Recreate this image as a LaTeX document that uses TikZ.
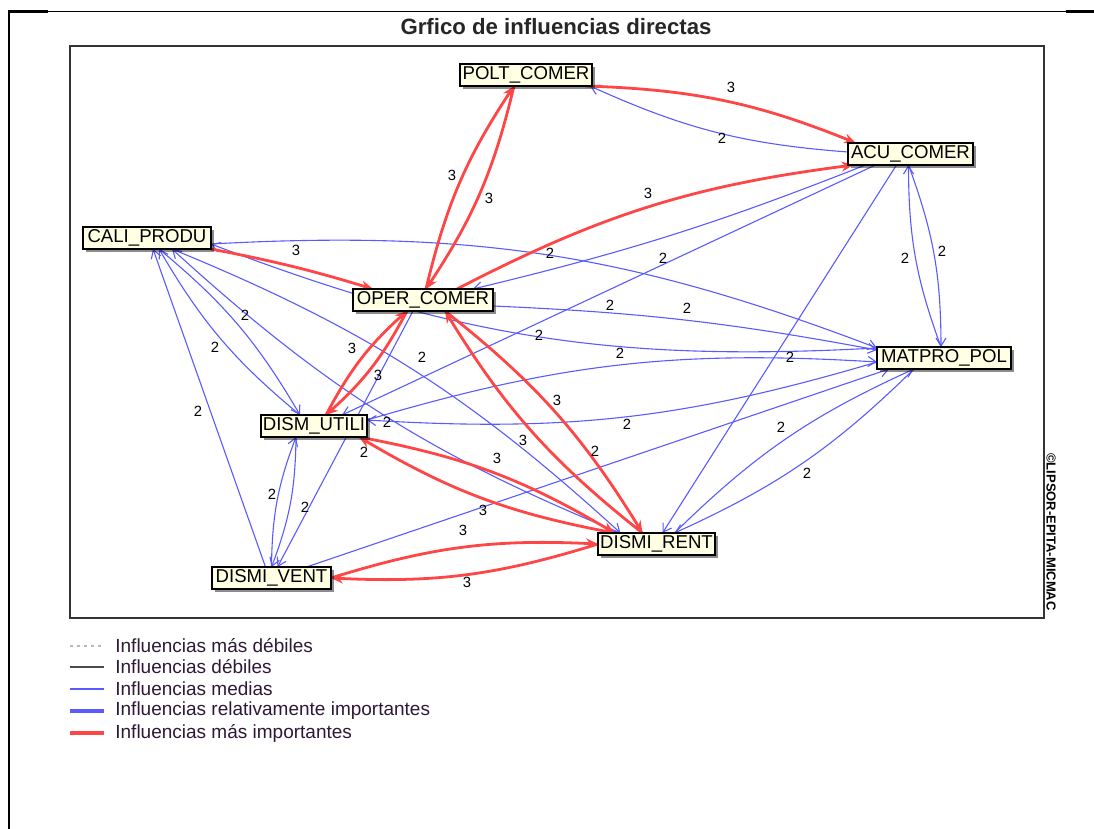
\documentclass[tikz,border=0pt]{standalone}
\usepackage{fontspec}
\setmainfont{Liberation Sans}
\usetikzlibrary{arrows.meta,calc,shadows}
\pgfdeclarelayer{background}
\pgfsetlayers{background,main}
\definecolor{edgeblue}{RGB}{90,90,255}
\definecolor{edgered}{RGB}{255,70,70}
\definecolor{boxfill}{RGB}{255,255,228}
\definecolor{legtext}{RGB}{45,25,55}
\begin{document}
\begin{tikzpicture}[x=0.5pt,y=-0.5pt,
  var/.style={draw=black, line width=0.8pt, fill=boxfill, inner sep=0pt,
    minimum height=11pt, font=\fontsize{9.3}{10}\selectfont,
    drop shadow={shadow xshift=1.6pt, shadow yshift=-1.6pt, fill=black, opacity=0.45}},
  infb/.style={draw=edgeblue, line width=0.55pt, -{Straight Barb[length=4pt,width=5pt]}},
  infr/.style={draw=edgered, line width=1.4pt, -{Stealth[length=6pt,width=5pt]}},
  lens/.style={bend left=10},
  lbl/.style={font=\fontsize{7.4}{8}\selectfont, inner sep=0pt},
  legline/.style={line width=0.6pt},
  legtxt/.style={anchor=west, inner sep=0pt, text=legtext, font=\fontsize{9.5}{11}\selectfont}
]
\useasboundingbox (0,0) rectangle (1094,829);

% page frame
\draw[line width=1.1pt] (9,829) -- (9,11.5) -- (48,11.5);
\draw[line width=0.6pt] (48,11.5) -- (1066,11.5);
\draw[line width=1.3pt] (1066,11.5) -- (1094,11.5);

% title
\node[font=\bfseries\fontsize{11.1}{13}\selectfont, text=black!85] (title) at (556,27) {Grfico de influencias directas};

% plot frame
\draw[line width=0.8pt, black!80] (70,46) rectangle (1044,618);

% watermark
\node[rotate=-90, font=\bfseries\fontsize{6.5}{7}\selectfont] (wm) at (1051,532) {©LIPSOR-EPITA-MICMAC};

% variables
\node[var, minimum width=66pt]   (polt)   at (526,75)    {POLT\_COMER};
\node[var, minimum width=62.5pt] (acu)    at (910.5,154) {ACU\_COMER};
\node[var, minimum width=64pt]   (cali)   at (147,238)   {CALI\_PRODU};
\node[var, minimum width=70pt]   (oper)   at (423,300)   {OPER\_COMER};
\node[var, minimum width=67pt]   (matpro) at (944,358)   {MATPRO\_POL};
\node[var, minimum width=53pt]   (du)     at (314,426)   {DISM\_UTILI};
\node[var, minimum width=58.5pt] (dr)     at (656.5,544) {DISMI\_RENT};
\node[var, minimum width=59.5pt] (dv)     at (271.5,578) {DISMI\_VENT};

\begin{pgfonlayer}{background}
% blue influences
\draw[infb] ($(acu)+(-62.5,-2)$) to[bend left=10] ($(polt)+(64,11)$);
\draw[infb] ($(acu)+(-45,11)$) to[bend left=4] ($(oper)+(50,-11)$);
\draw[infb] ($(acu)+(-35,11)$) -- ($(du)+(28,-11)$);
\draw[infb] ($(acu)+(-14,11)$) -- ($(dr)+(6,-11)$);
\draw[infb] ($(acu)+(-2,11)$) to[lens] ($(matpro)+(-3,-11)$);
\draw[infb] ($(matpro)+(-3,-11)$) to[lens] ($(acu)+(-2,11)$);
\draw[infb] ($(cali)+(64,6)$) to[bend left=12] ($(matpro)+(-67,-10)$);
\draw[infb] ($(matpro)+(-67,-10)$) to[bend left=12] ($(cali)+(64,6)$);
\draw[infb] ($(cali)+(12,11)$) to[lens] ($(du)+(-14,-11)$);
\draw[infb] ($(du)+(-14,-11)$) to[lens] ($(cali)+(12,11)$);
\draw[infb] ($(dv)+(-6,-11)$) -- ($(cali)+(6,11)$);
\draw[infb] ($(cali)+(25,11)$) to[lens] ($(dr)+(-36,-11)$);
\draw[infb] ($(dr)+(-36,-11)$) to[lens] ($(cali)+(25,11)$);
\draw[infb] ($(oper)+(-10,11)$) -- ($(dv)+(6,-11)$);
\draw[infb] ($(du)+(-18,11)$) to[lens] ($(dv)+(0,-11)$);
\draw[infb] ($(dv)+(0,-11)$) to[lens] ($(du)+(-18,11)$);
\draw[infb] ($(du)+(53,-6)$) to[lens] ($(matpro)+(-67,4)$);
\draw[infb] ($(matpro)+(-67,4)$) to[lens] ($(du)+(53,-6)$);
\draw[infb] ($(dv)+(35,-11)$) -- ($(matpro)+(-55,11)$);
\draw[infb] ($(matpro)+(-30,11)$) to[lens] ($(dr)+(18,-11)$);
\draw[infb] ($(dr)+(18,-11)$) to[lens] ($(matpro)+(-30,11)$);
\draw[infb] ($(oper)+(70,6)$) to[bend left=4] ($(matpro)+(-67,-8)$);
% red influences
\draw[infr] ($(polt)+(60,11)$) to[bend left=10] ($(acu)+(-54.5,-11)$);
\draw[infr] ($(polt)+(-12,11)$) to[lens] ($(oper)+(3,-11)$);
\draw[infr] ($(oper)+(3,-11)$) to[lens] ($(polt)+(-12,11)$);
\draw[infr] ($(oper)+(34,-11)$) to[bend left=10] ($(acu)+(-57,11)$);
\draw[infr] ($(cali)+(64,11)$) to[bend left=3] ($(oper)+(-50,-11)$);
\draw[infr] ($(oper)+(-16,11)$) to[lens] ($(du)+(12,-11)$);
\draw[infr] ($(du)+(12,-11)$) to[lens] ($(oper)+(-16,11)$);
\draw[infr] ($(oper)+(22,11)$) to[lens] ($(dr)+(-14,-11)$);
\draw[infr] ($(dr)+(-14,-11)$) to[lens] ($(oper)+(22,11)$);
\draw[infr] ($(du)+(45,11)$) to[lens] ($(dr)+(-42,-11)$);
\draw[infr] ($(dr)+(-42,-11)$) to[lens] ($(du)+(45,11)$);
\draw[infr] ($(dv)+(59.5,0)$) to[lens] ($(dr)+(-58.5,0)$);
\draw[infr] ($(dr)+(-58.5,0)$) to[lens] ($(dv)+(59.5,0)$);
\end{pgfonlayer}

% influence values
\node[lbl] (l1) at (731,87) {3};
\node[lbl] (l2) at (722,138) {2};
\node[lbl] (l3) at (452,175) {3};
\node[lbl] (l4) at (489,198) {3};
\node[lbl] (l5) at (648,193) {3};
\node[lbl] (l6) at (296,250) {3};
\node[lbl] (l7) at (550,253) {2};
\node[lbl] (l8) at (663,258) {2};
\node[lbl] (l9) at (905,258) {2};
\node[lbl] (l10) at (942,251) {2};
\node[lbl] (l11) at (610,305) {2};
\node[lbl] (l12) at (687,308) {2};
\node[lbl] (l13) at (245,315) {2};
\node[lbl] (l14) at (215,347) {2};
\node[lbl] (l15) at (352,348) {3};
\node[lbl] (l16) at (422,357) {2};
\node[lbl] (l17) at (378,375) {3};
\node[lbl] (l18) at (539,335) {2};
\node[lbl] (l19) at (620,353) {2};
\node[lbl] (l20) at (790,357) {2};
\node[lbl] (l21) at (198,411) {2};
\node[lbl] (l22) at (557,400) {3};
\node[lbl] (l23) at (387,422) {2};
\node[lbl] (l24) at (627,424) {2};
\node[lbl] (l25) at (781,427) {2};
\node[lbl] (l26) at (523,440) {3};
\node[lbl] (l27) at (364,452) {2};
\node[lbl] (l28) at (497,458) {3};
\node[lbl] (l29) at (595,451) {2};
\node[lbl] (l30) at (807,473) {2};
\node[lbl] (l31) at (272,494) {2};
\node[lbl] (l32) at (305,507) {2};
\node[lbl] (l33) at (483,510) {3};
\node[lbl] (l34) at (463,530) {3};
\node[lbl] (l35) at (467,582) {3};

% legend
\draw[legline, gray!55, dash pattern=on 1.5pt off 2pt] (70,646) -- (104,646);
\draw[legline, black!70] (70,667) -- (104,667);
\draw[legline, edgeblue] (70,689) -- (104,689);
\draw[line width=1.7pt, edgeblue] (70,711) -- (104,711);
\draw[line width=1.7pt, edgered] (70,733) -- (104,733);
\node[legtxt] (lg1) at (115,646) {Influencias más débiles};
\node[legtxt] (lg2) at (115,667) {Influencias débiles};
\node[legtxt] (lg3) at (115,689) {Influencias medias};
\node[legtxt] (lg4) at (115,711) {Influencias relativamente importantes};
\node[legtxt] (lg5) at (115,733) {Influencias más importantes};
\end{tikzpicture}
\end{document}
